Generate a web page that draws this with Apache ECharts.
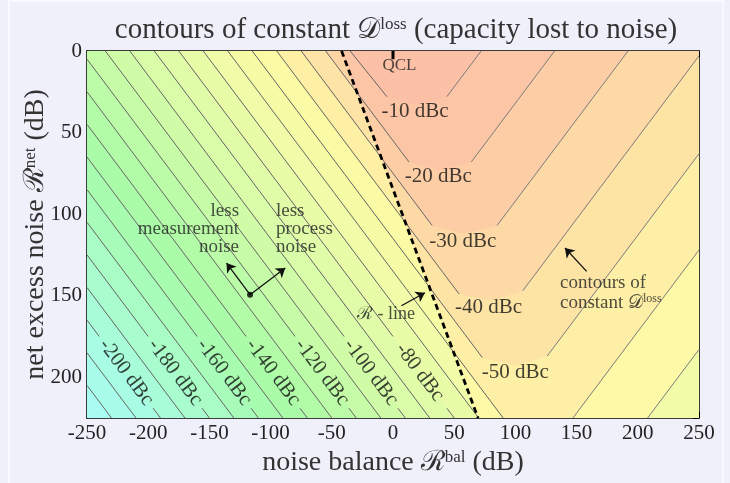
<!DOCTYPE html>
<html><head><meta charset="utf-8">
<script src="https://cdn.jsdelivr.net/npm/echarts@6/dist/echarts.min.js"></script>
<style>html,body{margin:0;padding:0;background:#f0f0fb}#c{width:730px;height:483px}</style>
</head><body><div id="c"></div>
<script>
// ---------------- data ----------------
const xRange = [-250, 250];
const yRange = [0, 225];
const xTickStep = 50;
const yTickStep = 50;

// R-line (dashed), from top to bottom of plot
const rLine = [[-42, 0], [69.5, 225]];
// QCL marker
const qclMark = [[0, 0], [0, 5]];

// full contour paths (used for the filled bands), one per level
const contourLevels = [-220, -210, -200, -190, -180, -170, -160, -150, -140, -130, -120, -110,
  -100, -90, -80, -70, -60, -50, -40, -30, -20, -10];
const contourPaths = [
  [[-250, 205], [-230, 225]],
  [[-250, 185], [-210, 225]],
  [[-250, 165], [-190, 225]],
  [[-250, 145], [-170, 225]],
  [[-250, 125], [-150, 225]],
  [[-250, 105], [-130, 225]],
  [[-250, 85], [-110, 225]],
  [[-250, 65], [-90, 225]],
  [[-250, 45], [-70, 225]],
  [[-250, 25], [-50, 225]],
  [[-250, 5], [-30, 225]],
  [[-235, 0], [-10, 225]],
  [[-215, 0], [10, 225]],
  [[-195, 0], [30, 225]],
  [[-175, 0], [50, 225]],
  [[-155, 0], [70, 225], [208, 225], [250, 183]],
  [[-135, 0], [90, 225], [147, 225], [250, 122]],
  [[-115, 0], [73, 188], [100, 193], [126, 187], [250, 63]],
  [[-95, 0], [54, 149], [80, 153], [106, 147], [250, 3]],
  [[-75, 0], [32, 107], [58, 112], [85, 107], [192, 0]],
  [[-55, 0], [13, 68], [38, 73], [64, 68], [132, 0]],
  [[-35, 0], [-5, 28], [19, 33], [44, 28], [72, 0]]
];

// drawn contour segments (with gaps where labels sit); second group = right-hand arms
const leftSegments = [
  [[-250, 205], [-230, 225]],
  [[-250, 185], [-210, 225]],
  [[-250, 165], [-240, 175]], [[-196, 219], [-190, 225]],
  [[-250, 145], [-170, 225]],
  [[-250, 125], [-200, 175]], [[-156, 219], [-150, 225]],
  [[-250, 105], [-130, 225]],
  [[-250, 85], [-160, 175]], [[-116, 219], [-110, 225]],
  [[-250, 65], [-90, 225]],
  [[-250, 45], [-120, 175]], [[-76, 219], [-70, 225]],
  [[-250, 25], [-50, 225]],
  [[-250, 5], [-80, 175]], [[-36, 219], [-30, 225]],
  [[-235, 0], [-10, 225]],
  [[-215, 0], [-40, 175]], [[4, 219], [10, 225]],
  [[-195, 0], [30, 225]],
  [[-175, 0], [0, 175]], [[44, 219], [50, 225]],
  [[-155, 0], [70, 225]],
  [[-135, 0], [90, 225]],
  [[-115, 0], [73, 188]],
  [[-95, 0], [54, 149]],
  [[-75, 0], [32, 107]],
  [[-55, 0], [13, 68]],
  [[-35, 0], [-5, 28]]
];
const rightSegments = [
  [[208, 225], [250, 183]],
  [[147, 225], [250, 122]],
  [[126, 187], [250, 63]],
  [[106, 147], [250, 3]],
  [[85, 107], [192, 0]],
  [[64, 68], [132, 0]],
  [[44, 28], [72, 0]]
];

// band colours: base (below -220) then one per contour level (band above that level)
const leftBaseColor = '#a8fcf2';
const leftBandColors = ['#a8fcea', '#a8fce2', '#a8fcd8', '#a8fcce', '#a8fcc4', '#a8fcba', '#a8fcb0',
  '#aafca8', '#b2fca8', '#bcfca8', '#c6fca8', '#d0fca8', '#d8fca8', '#e0fca8', '#e8fca8', '#f0fca8',
  '#f6fca6', '#fbfaa5', '#fdf0a5', '#fee3a6', '#fdd5a5', '#fdd0a5'];
const rightBandColors = ['#f2fca8', '#f2fca8', '#f2fca8', '#f2fca8', '#f2fca8', '#f2fca8', '#f2fca8',
  '#f2fca8', '#f2fca8', '#f2fca8', '#f2fca8', '#f2fca8', '#f2fca8', '#f2fca8', '#f2fca8', '#fdf9a6',
  '#fdefa5', '#fde4a5', '#fdd9a5', '#fdcea5', '#fcc5a5', '#fbc0a5'];

// rotated labels on the left contours
const slantLabels = [
  ['-200 dBc', -218, 197], ['-180 dBc', -178, 197], ['-160 dBc', -138, 197],
  ['-140 dBc', -98, 197], ['-120 dBc', -58, 197], ['-100 dBc', -18, 197], ['-80 dBc', 22, 197]
];
// horizontal labels at the V vertices
const vLabels = [
  ['-10 dBc', 18, 37], ['-20 dBc', 37, 77], ['-30 dBc', 57, 117], ['-40 dBc', 78, 157], ['-50 dBc', 100, 197]
];

// annotation arrows
const arrows = [
  [[-116.8, 149.4], [-136, 130]],
  [[-116.8, 149.4], [-88, 133]],
  [[6.9, 156.2], [26.1, 148.2]],
  [[158.2, 135.1], [140.5, 120.8]]
];
const arrowBase = [[-116.8, 149.4]];

// ---------------- chart ----------------
const F = "'Liberation Serif','DejaVu Serif',serif";
const chart = echarts.init(document.getElementById('c'), null, {renderer: 'canvas'});

function clipSide(poly, sign) {
  const [a0, a1] = rLine;
  const f = p => sign * (p[0] - (a0[0] + (a1[0] - a0[0]) * (p[1] - a0[1]) / (a1[1] - a0[1])));
  const out = [];
  for (let i = 0; i < poly.length; i++) {
    const a = poly[i], b = poly[(i + 1) % poly.length];
    const fa = f(a), fb = f(b);
    if (fa >= 0) out.push(a);
    if ((fa >= 0) !== (fb >= 0)) {
      const t = fa / (fa - fb);
      out.push([a[0] + t * (b[0] - a[0]), a[1] + t * (b[1] - a[1])]);
    }
  }
  return out;
}
function regionAbove(path) {
  const pts = path.map(p => p.slice());
  const first = pts[0], last = pts[pts.length - 1];
  if (last[1] === yRange[1]) pts.push([xRange[1], yRange[1]]);
  if (last[1] !== yRange[0]) pts.push([xRange[1], yRange[0]]);
  if (first[0] === xRange[0] && first[1] !== yRange[0]) pts.push([xRange[0], yRange[0]]);
  return pts;
}
const boxPoly = [[xRange[0], yRange[0]], [xRange[1], yRange[0]], [xRange[1], yRange[1]], [xRange[0], yRange[1]]];
const fills = [];
fills.push({pts: boxPoly, color: leftBaseColor});
contourPaths.forEach((path, i) => {
  const reg = regionAbove(path);
  const l = clipSide(reg, -1), r = clipSide(reg, 1);
  if (l.length > 2) fills.push({pts: l, color: leftBandColors[i]});
  if (r.length > 2) fills.push({pts: r, color: rightBandColors[i]});
});

const segData = leftSegments.map(s => [s[0][0], s[0][1], s[1][0], s[1][1], 0])
  .concat(rightSegments.map(s => [s[0][0], s[0][1], s[1][0], s[1][1], 1]));

const axisCommon = {
  axisLine: {show: true, onZero: false, lineStyle: {color: '#000', width: 1.5}},
  axisTick: {show: true, inside: true, length: 6, lineStyle: {color: '#000', width: 1}},
  splitLine: {show: false}
};
const nameRich = {
  t: {fontFamily: F, fontSize: 28, color: '#333', fontWeight: 'normal'},
  r: {fontFamily: F, fontSize: 28, color: '#333', fontWeight: 'normal'},
  s: {fontFamily: F, fontSize: 17, color: '#333', fontWeight: 'normal', verticalAlign: 'top'}
};

const option = {
  backgroundColor: '#f0f0fb',
  animation: false,
  title: {
    left: 391, top: 11, textAlign: 'center',
    text: '{t|contours of constant }{d|𝒟}{s|loss}{t| (capacity lost to noise)}',
    textStyle: {fontWeight: 'normal', rich: {
      t: {fontFamily: F, fontSize: 29, color: '#333', fontWeight: 'normal'},
      d: {fontFamily: F, fontSize: 29, color: '#333', fontWeight: 'normal'},
      s: {fontFamily: F, fontSize: 17, color: '#333', fontWeight: 'normal', verticalAlign: 'top'}
    }}
  },
  grid: {left: 87, right: 31, top: 51, bottom: 65, show: false, outerBoundsMode: 'none'},
  xAxis: [
    Object.assign({type: 'value', min: xRange[0], max: xRange[1], interval: xTickStep, position: 'bottom',
      axisLabel: {color: '#222', fontSize: 21, fontFamily: F, margin: 5},
      name: '{t|noise balance }{r|ℛ}{s|bal}{t| (dB)}', nameLocation: 'middle', nameGap: 30,
      nameTextStyle: {rich: nameRich}}, axisCommon),
    Object.assign({type: 'value', min: xRange[0], max: xRange[1], interval: xTickStep, position: 'top',
      axisLabel: {show: false}}, axisCommon)
  ],
  yAxis: [
    Object.assign({type: 'value', min: yRange[0], max: yRange[1], interval: yTickStep, inverse: true, position: 'left',
      axisLabel: {color: '#222', fontSize: 21, fontFamily: F, margin: 5, showMaxLabel: false,
        formatter: v => (v % 50 === 0 ? String(v) : '')},
      name: '{t|net excess noise }{r|ℛ}{s|net}{t| (dB)}', nameLocation: 'middle', nameGap: 37, nameRotate: 90,
      nameMoveOverlap: false,
      nameTextStyle: {rich: nameRich}}, axisCommon),
    Object.assign({type: 'value', min: yRange[0], max: yRange[1], interval: yTickStep, inverse: true, position: 'right',
      axisLabel: {show: false}}, axisCommon)
  ],
  series: [
    {
      type: 'custom', name: 'bands', silent: true, z: 1, clip: true,
      data: fills.map((b, i) => [i]),
      encode: {x: -1, y: -1},
      renderItem: (params, api) => {
        const f = fills[params.dataIndex];
        const pts = f.pts.map(p => api.coord(p));
        return {type: 'polygon', shape: {points: pts}, style: {fill: f.color, stroke: f.color, lineWidth: 0.5}};
      }
    },
    {
      type: 'custom', name: 'contours', silent: true, z: 2,
      data: segData,
      encode: {x: [0, 2], y: [1, 3]},
      renderItem: (params, api) => {
        const p1 = api.coord([api.value(0), api.value(1)]);
        const p2 = api.coord([api.value(2), api.value(3)]);
        return {type: 'line', shape: {x1: p1[0], y1: p1[1], x2: p2[0], y2: p2[1]},
          style: {stroke: api.value(4) ? '#7c7c7c' : '#666666', lineWidth: 1}};
      }
    },
    {
      type: 'line', name: 'R-line', z: 4, symbol: 'none', silent: true,
      data: rLine, lineStyle: {color: '#000', width: 2.8, type: [6, 4]}
    },
    {
      type: 'line', name: 'QCL', z: 4, symbol: 'none', silent: true,
      data: qclMark, lineStyle: {color: '#000', width: 3}
    },
    {
      type: 'scatter', name: 'slantLabels', z: 5, symbolSize: 0, silent: true,
      data: slantLabels.map(l => ({value: [l[1], l[2]], label: {formatter: l[0]}})),
      label: {show: true, position: 'inside', rotate: -53, color: '#111', fontSize: 21, fontFamily: F}
    },
    {
      type: 'scatter', name: 'vLabels', z: 5, symbolSize: 0, silent: true,
      data: vLabels.map(l => ({value: [l[1], l[2]], label: {formatter: l[0]}})),
      label: {show: true, position: 'inside', color: '#111', fontSize: 21, fontFamily: F}
    },
    {
      type: 'lines', coordinateSystem: 'cartesian2d', z: 6, silent: true,
      data: arrows.map(a => ({coords: a})),
      symbol: ['none', 'arrow'], symbolSize: 9,
      lineStyle: {color: '#111', width: 1.3, opacity: 1}
    },
    {
      type: 'scatter', z: 6, silent: true, symbol: 'circle', symbolSize: 6,
      itemStyle: {color: '#000'}, data: arrowBase
    },
    {
      type: 'scatter', name: 'notes', z: 7, symbolSize: 0, silent: true,
      data: [
        {value: [-125.8, 109], label: {position: 'left', distance: 0, align: 'right', formatter: 'less\nmeasurement\nnoise'}},
        {value: [-95.6, 109], label: {position: 'right', distance: 0, align: 'left', formatter: 'less\nprocess\nnoise'}},
        {value: [-29.4, 161.7], label: {position: 'right', distance: 0, fontSize: 18, formatter: '{r|ℛ} - line'}},
        {value: [136.4, 148.2], label: {position: 'right', distance: 0, lineHeight: 20, fontSize: 19, formatter: 'contours of\nconstant {d|𝒟}{s|loss}'}},
        {value: [5.3, 9.2], label: {position: 'inside', fontSize: 17, formatter: 'QCL'}}
      ],
      label: {show: true, color: '#222', fontSize: 19, fontFamily: F, lineHeight: 18,
        rich: {
          r: {fontFamily: F, fontSize: 18, color: '#222'},
          d: {fontFamily: F, fontSize: 19, color: '#222'},
          s: {fontFamily: F, fontSize: 12, color: '#222', verticalAlign: 'top'}
        }}
    }
  ],
  graphic: [
    {type: 'rect', silent: true, z: -10, shape: {x: 9, y: 1, width: 714, height: 485},
      style: {fill: 'none', stroke: '#f8f8ff', lineWidth: 2}}
  ]
};
chart.setOption(option);
</script>
</body></html>
